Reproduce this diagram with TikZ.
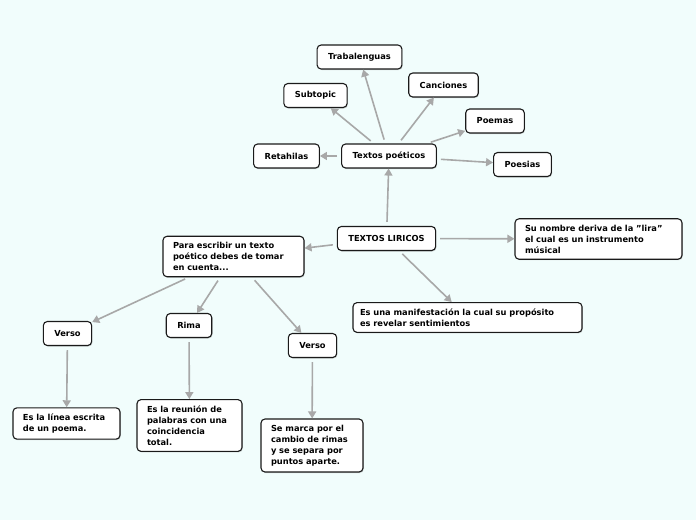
\documentclass[tikz,border=0pt]{standalone}
\usepackage{fontspec}
\setmainfont{DejaVu Sans}
\usepackage{xcolor}
\definecolor{mapBack}{HTML}{F1FDFC}
\definecolor{linkGray}{HTML}{A8A8A8}
\definecolor{boxLine}{HTML}{1A1A1A}
\usepackage{tikz}
\usetikzlibrary{
    arrows.meta,
    shadows
}
\tikzset{
    % Base style for all boxes
    idea base/.style={
        font=\fontsize{8.3}{11}\selectfont\bfseries,
        align=left,
        rectangle,
        rounded corners=4pt,
        draw=boxLine,
        line width=1.1pt,
        fill=white,
        inner xsep=10pt,
        drop shadow={
            shadow xshift=0.8pt,
            shadow yshift=-1pt,
            opacity=0.35
        },
    },
    % One-line topic boxes
    topic/.style={
        idea base,
        minimum height=24pt,
        inner xsep=11pt,
    },
    % Boxes with several lines of text
    note/.style={
        idea base,
        text width=#1,
        inner ysep=6pt,
    },
    % Grey connector with a solid tip
    arrow/.style={
        -{Triangle[length=7pt, width=8pt]},
        line width=1.6pt,
        draw=linkGray,
        shorten <=4pt,
    },
}

\begin{document}
\begin{tikzpicture}[x=1pt, y=-1pt]
    \fill [mapBack] (0,0) rectangle (696,520);
    \useasboundingbox (0,0) rectangle (696,520);

    \node (lir) [topic] at (386.5,238.5) {TEXTOS LIRICOS};
    \node (poet) [topic] at (389,156) {Textos poéticos};
    \node (trab) [topic] at (359.5,57) {Trabalenguas};
    \node (subt) [topic] at (315.5,95.5) {Subtopic};
    \node (canc) [topic] at (443.5,85) {Canciones};
    \node (poem) [topic] at (495,121) {Poemas};
    \node (reta) [topic] at (286.5,156) {Retahilas};
    \node (poes) [topic] at (522.5,164.5) {Poesias};
    \node (lira) [note=147pt] at (598.5,239) {Su nombre deriva de la {\char34}lira{\char34}\\el cual es un instrumento\\músical};
    \node (para) [note=121pt] at (233.5,256.5) {Para escribir un texto\\poético debes de tomar\\en cuenta...};
    \node (mani) [note=215pt, inner xsep=7pt] at (467.5,317.5) {Es una manifestación la cual su propósito\\es revelar sentimientos};
    \node (ver1) [topic] at (67.5,333.5) {Verso};
    \node (rima) [topic] at (189,325.5) {Rima};
    \node (ver2) [topic] at (312.5,345.5) {Verso};
    \node (lin) [note=87pt] at (66.5,423.5) {Es la línea escrita\\de un poema.};
    \node (reun) [note=85pt] at (189.5,425.5) {Es la reunión de\\palabras con una\\coincidencia\\total.};
    \node (marc) [note=82pt] at (312,445.5) {Se marca por el\\cambio de rimas\\y se separa por\\puntos aparte.};

    \draw [arrow] (lir) -- (poet);
    \draw [arrow] (lir) -- (lira);
    \draw [arrow] (lir) -- (para);
    \draw [arrow] (lir) -- (mani);
    \draw [arrow] (poet) -- (trab);
    \draw [arrow] (poet) -- (subt);
    \draw [arrow] (poet) -- (canc);
    \draw [arrow] (poet) -- (poem);
    \draw [arrow] (poet) -- (reta);
    \draw [arrow] (poet) -- (poes);
    \draw [arrow] (para) -- (ver1);
    \draw [arrow] (para) -- (rima);
    \draw [arrow] (para) -- (ver2);
    \draw [arrow] (ver1) -- (lin);
    \draw [arrow] (rima) -- (reun);
    \draw [arrow] (ver2) -- (marc);
\end{tikzpicture}
\end{document}
